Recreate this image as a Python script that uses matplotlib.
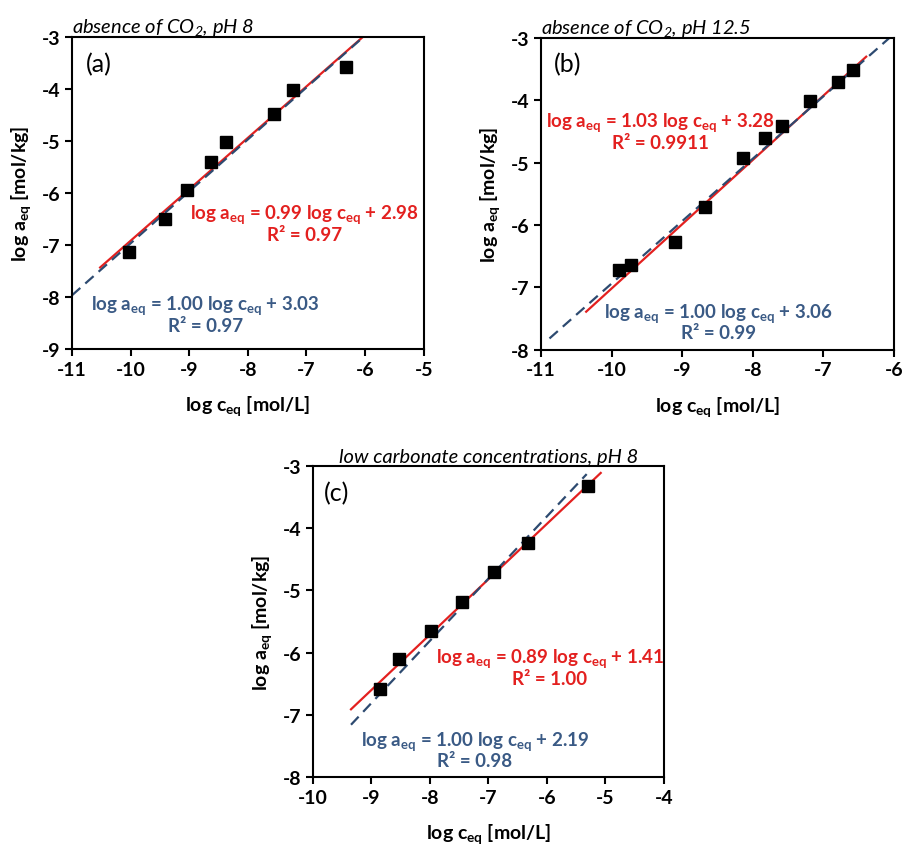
import numpy as np
import matplotlib.pyplot as plt

plt.rcParams['font.family'] = ['Lato', 'DejaVu Sans']
plt.rcParams['font.weight'] = 'bold'
plt.rcParams['mathtext.default'] = 'regular'
plt.rcParams['axes.unicode_minus'] = False

# (a) absence of CO2, pH 8
a_logc = [-10.02, -9.42, -9.04, -8.63, -8.38, -7.55, -7.23, -6.32]
a_loga = [-7.14, -6.51, -5.94, -5.41, -5.02, -4.48, -4.01, -3.57]
# (b) absence of CO2, pH 12.5
b_logc = [-9.89, -9.72, -9.10, -8.67, -8.13, -7.83, -7.59, -7.18, -6.79, -6.58]
b_loga = [-6.72, -6.65, -6.27, -5.71, -4.93, -4.60, -4.41, -4.01, -3.71, -3.51]
# (c) low carbonate concentrations, pH 8
c_logc = [-8.85, -8.53, -7.99, -7.46, -6.91, -6.33, -5.29]
c_loga = [-6.58, -6.11, -5.66, -5.19, -4.70, -4.24, -3.32]

# fits: slope, intercept, R2 text, x span of the drawn line
red_fits = [(0.99, 2.98, '0.97', (-10.52, -6.04)),
            (1.03, 3.28, '0.9911', (-10.36, -6.39)),
            (0.89, 1.41, '1.00', (-9.35, -5.08))]
blue_fits = [(1.00, 3.03, '0.97', (-11.0, -6.03)),
             (1.00, 3.06, '0.99', (-10.88, -6.0)),
             (1.00, 2.19, '0.98', (-9.35, -5.32))]

titles = ['absence of CO$_2$, pH 8', 'absence of CO$_2$, pH 12.5',
          'low carbonate concentrations, pH 8']
tags = ['(a)', '(b)', '(c)']
xlims = [(-11, -5), (-11, -6), (-10, -4)]
ylims = [(-9, -3), (-8, -3), (-8, -3)]

red = '#e3201f'
blue_txt = '#3a5a85'
blue_line = '#2d4a70'

fig = plt.figure(figsize=(9.02, 8.45), dpi=100)
rects = [[0.0798, 0.586, 0.390, 0.369],
         [0.5998, 0.585, 0.391, 0.369],
         [0.347, 0.0793, 0.389, 0.368]]

# text spots (data coords): tag, red eq, blue eq
tag_pos = [(-10.55, -3.51), (-10.62, -3.42), (-9.59, -3.42)]
red_pos = [(-7.03, -6.57), (-9.31, -4.49), (-5.95, -6.22)]
blue_pos = [(-8.73, -8.32), (-8.49, -7.54), (-7.23, -7.55)]

xs = [a_logc, b_logc, c_logc]
ys = [a_loga, b_loga, c_loga]

for i in range(3):
    ax = fig.add_axes(rects[i])
    m, b, r2, (x0, x1) = red_fits[i]
    xx = np.array([x0, x1])
    ax.plot(xx, m*xx + b, color=red, lw=1.6, zorder=2)
    m, b, r2b, (x0, x1) = blue_fits[i]
    xx = np.array([x0, x1])
    ax.plot(xx, m*xx + b, color=blue_line, lw=1.6, ls=(0, (5, 3)), zorder=2.5)
    ax.plot(xs[i], ys[i], 's', color='black', ms=8.5, zorder=3)

    ax.set_xlim(xlims[i])
    ax.set_ylim(ylims[i])
    ax.set_xticks(np.arange(xlims[i][0], xlims[i][1] + 1))
    ax.set_yticks(np.arange(ylims[i][0], ylims[i][1] + 1))
    ax.tick_params(labelsize=14, width=1.5, length=5)
    for lab in ax.get_xticklabels() + ax.get_yticklabels():
        lab.set_fontweight('bold')
    for s in ax.spines.values():
        s.set_linewidth(1.5)
    ax.set_xlabel('log c$_{eq}$ [mol/L]', fontsize=14, fontweight='bold', labelpad=11)
    ax.set_ylabel('log a$_{eq}$ [mol/kg]', fontsize=14, fontweight='bold', labelpad=6)

    if i < 2:
        ax.set_title(titles[i], loc='left', fontsize=14.5, fontstyle='italic',
                     fontweight='normal', pad=3)
    else:
        ax.set_title(titles[i], fontsize=14.5, fontstyle='italic',
                     fontweight='normal', pad=3)
    ax.text(*tag_pos[i], tags[i], fontsize=18, fontweight='normal',
            ha='center', va='center')

    m, b, r2, _ = red_fits[i]
    ax.text(*red_pos[i], 'log a$_{eq}$ = %.2f log c$_{eq}$ + %.2f\nR² = %s' % (m, b, r2),
            color=red, fontsize=13.5, fontweight='bold', ha='center', va='center',
            multialignment='center', linespacing=1.05)
    m, b, r2, _ = blue_fits[i]
    ax.text(*blue_pos[i], 'log a$_{eq}$ = %.2f log c$_{eq}$ + %.2f\nR² = %s' % (m, b, r2),
            color=blue_txt, fontsize=13.5, fontweight='bold', ha='center', va='center',
            multialignment='center', linespacing=1.05)

fig.savefig('out.png', dpi=100)
